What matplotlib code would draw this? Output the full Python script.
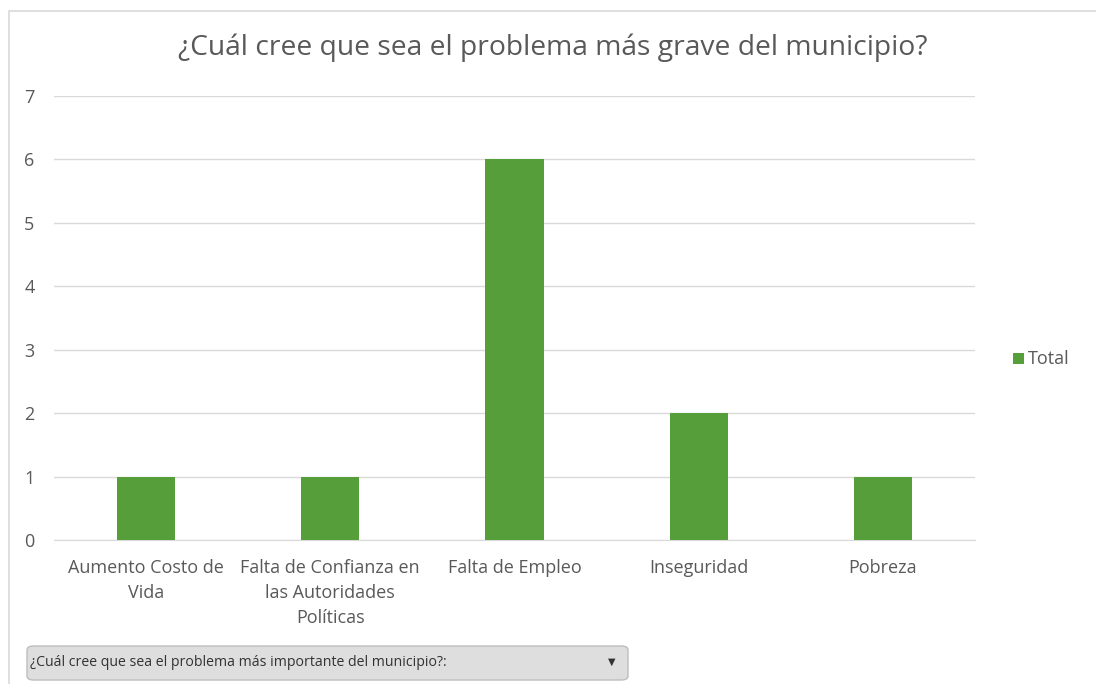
import matplotlib.pyplot as plt
from matplotlib.patches import FancyBboxPatch, Rectangle
import numpy as np

plt.rcParams['font.family'] = ['Open Sans', 'DejaVu Sans']

categories = ['Aumento Costo de\nVida', 'Falta de Confianza en\nlas Autoridades\nPolíticas',
              'Falta de Empleo', 'Inseguridad', 'Pobreza']
totals = [1, 1, 6, 2, 1]
title = '¿Cuál cree que sea el problema más grave del municipio?'
filter_label = '¿Cuál cree que sea el problema más importante del municipio?:'

green = '#559E3A'
text_gray = '#595959'
grid_gray = '#D9D9D9'

fig = plt.figure(figsize=(10.96, 6.84), dpi=100)
fig.patch.set_facecolor('white')

# chart border
fig.patches.append(Rectangle((9 / 1096, -0.01), 1.2, 1 - 11 / 684 + 0.01,
                             transform=fig.transFigure, fill=False,
                             edgecolor='#D9D9D9', linewidth=1.2))

ax = fig.add_axes([54 / 1096, 1 - 540 / 684, 921 / 1096, 444 / 684])
x = np.arange(len(categories))
ax.bar(x, totals, width=0.315, color=green, label='Total', zorder=3)
ax.set_xlim(-0.5, len(categories) - 0.5)
ax.set_ylim(0, 7)
ax.set_yticks(range(0, 8))
ax.yaxis.grid(True, color=grid_gray, linewidth=1)
ax.set_axisbelow(True)
for s in ['top', 'right', 'left']:
    ax.spines[s].set_visible(False)
ax.spines['bottom'].set_color(grid_gray)
ax.tick_params(axis='both', length=0, colors=text_gray, labelsize=13)
ax.tick_params(axis='y', pad=14)
ax.tick_params(axis='x', pad=14)
ax.set_xticks(x)
ax.set_xticklabels(categories, linespacing=1.5)

fig.text(553 / 1096, 1 - 48 / 684, title, ha='center', va='center',
         fontsize=20.3, color=text_gray)

# legend
fig.patches.append(Rectangle((1013 / 1096, 1 - 364 / 684), 11 / 1096, 11 / 684,
                             transform=fig.transFigure, facecolor=green, edgecolor='none'))
fig.text(1028 / 1096, 1 - 359 / 684, 'Total', ha='left', va='center',
         fontsize=13, color=text_gray)

# filter dropdown
box = FancyBboxPatch((27 / 1096, 1 - 680 / 684), 601 / 1096, 34 / 684,
                     boxstyle='round,pad=0,rounding_size=0.006',
                     transform=fig.transFigure, facecolor='#DEDEDE',
                     edgecolor='#BDBDBD', linewidth=1)
fig.patches.append(box)
fig.text(30 / 1096, 1 - 663 / 684, filter_label, ha='left', va='center',
         fontsize=10.2, color='#333333')
fig.text(612 / 1096, 1 - 662 / 684, '▼', ha='center', va='center',
         fontsize=7, color='#333333', family='DejaVu Sans')

fig.savefig('out.png', dpi=100)
